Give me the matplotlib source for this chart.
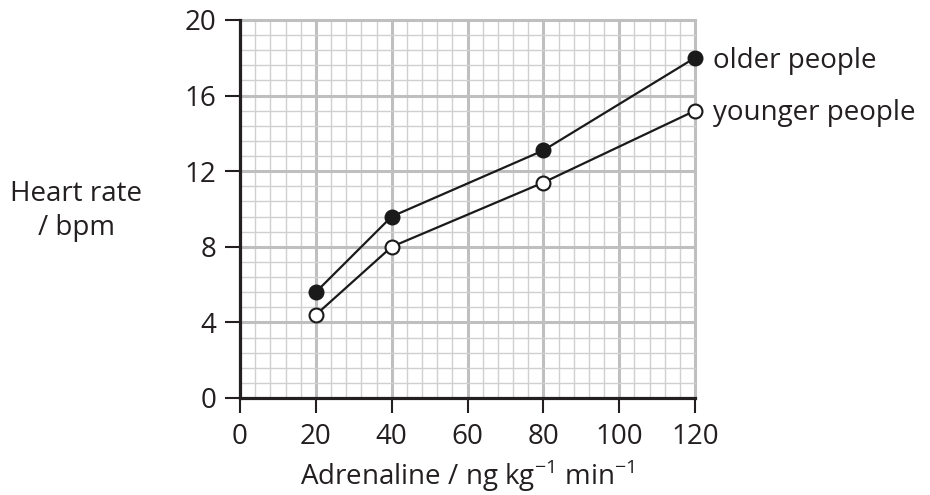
import matplotlib
matplotlib.use("Agg")
import matplotlib.pyplot as plt
import numpy as np

adrenaline = [20, 40, 80, 120]
older = [5.6, 9.6, 13.1, 18.0]
younger = [4.4, 8.0, 11.4, 15.2]
x_ticks = [0, 20, 40, 60, 80, 100, 120]
y_ticks = [0, 4, 8, 12, 16, 20]

plt.rcParams['font.family'] = ['Open Sans', 'DejaVu Sans']
plt.rcParams['mathtext.fontset'] = 'custom'
plt.rcParams['mathtext.rm'] = 'Open Sans'

FS = 20
TXT = '#231f20'

fig = plt.figure(figsize=(9.3, 4.95), dpi=100)
ax = fig.add_axes([240/930, 97/495, 455/930, 378/495])
ax.set_xlim(0, 120)
ax.set_ylim(0, 20)

# grid
for xv in np.arange(0, 121, 4):
    major = (xv % 20 == 0)
    if xv == 0:
        continue
    ax.axvline(xv, color='#bfbfbf' if major else '#d0d0d0', lw=2.2 if major else 1.0, zorder=1, clip_on=False)
for yv in np.arange(0, 20.01, 0.8):
    major = abs(yv / 4 - round(yv / 4)) < 1e-6
    if yv < 0.01:
        continue
    ax.axhline(yv, color='#bfbfbf' if major else '#d0d0d0', lw=2.2 if major else 1.0, zorder=1, clip_on=False)

ax.plot(adrenaline, older, color='#1a1a1a', lw=1.6, marker='o', ms=10,
        mfc='#1a1a1a', mec='#1a1a1a', mew=1.5, zorder=5, clip_on=False)
ax.plot(adrenaline, younger, color='#1a1a1a', lw=1.6, marker='o', ms=10,
        mfc='white', mec='#1a1a1a', mew=1.5, zorder=5, clip_on=False)

ax.annotate('older people', xy=(adrenaline[-1], older[-1]), xytext=(13, -2),
            textcoords='offset points', va='center', ha='left', fontsize=FS, color=TXT)
ax.annotate('younger people', xy=(adrenaline[-1], younger[-1]), xytext=(13, -2),
            textcoords='offset points', va='center', ha='left', fontsize=FS, color=TXT)

for s in ['top', 'right']:
    ax.spines[s].set_visible(False)
for s in ['left', 'bottom']:
    ax.spines[s].set_linewidth(2.3)
    ax.spines[s].set_color(TXT)
    ax.spines[s].set_zorder(6)

ax.set_xticks(x_ticks)
ax.set_yticks(y_ticks)
ax.tick_params(axis='both', direction='out', length=11, width=1.5, colors=TXT,
               labelsize=FS)
ax.tick_params(axis='x', pad=7)
ax.tick_params(axis='y', pad=6)

ax.set_xlabel('Adrenaline / ng kg$^{-1}$ min$^{-1}$', fontsize=FS, color=TXT, labelpad=5)
fig.text(76/930, 1 - 211/495, 'Heart rate\n/ bpm', ha='center', va='center',
         fontsize=FS, color=TXT, linespacing=1.25)

fig.savefig('out.png', dpi=100)
